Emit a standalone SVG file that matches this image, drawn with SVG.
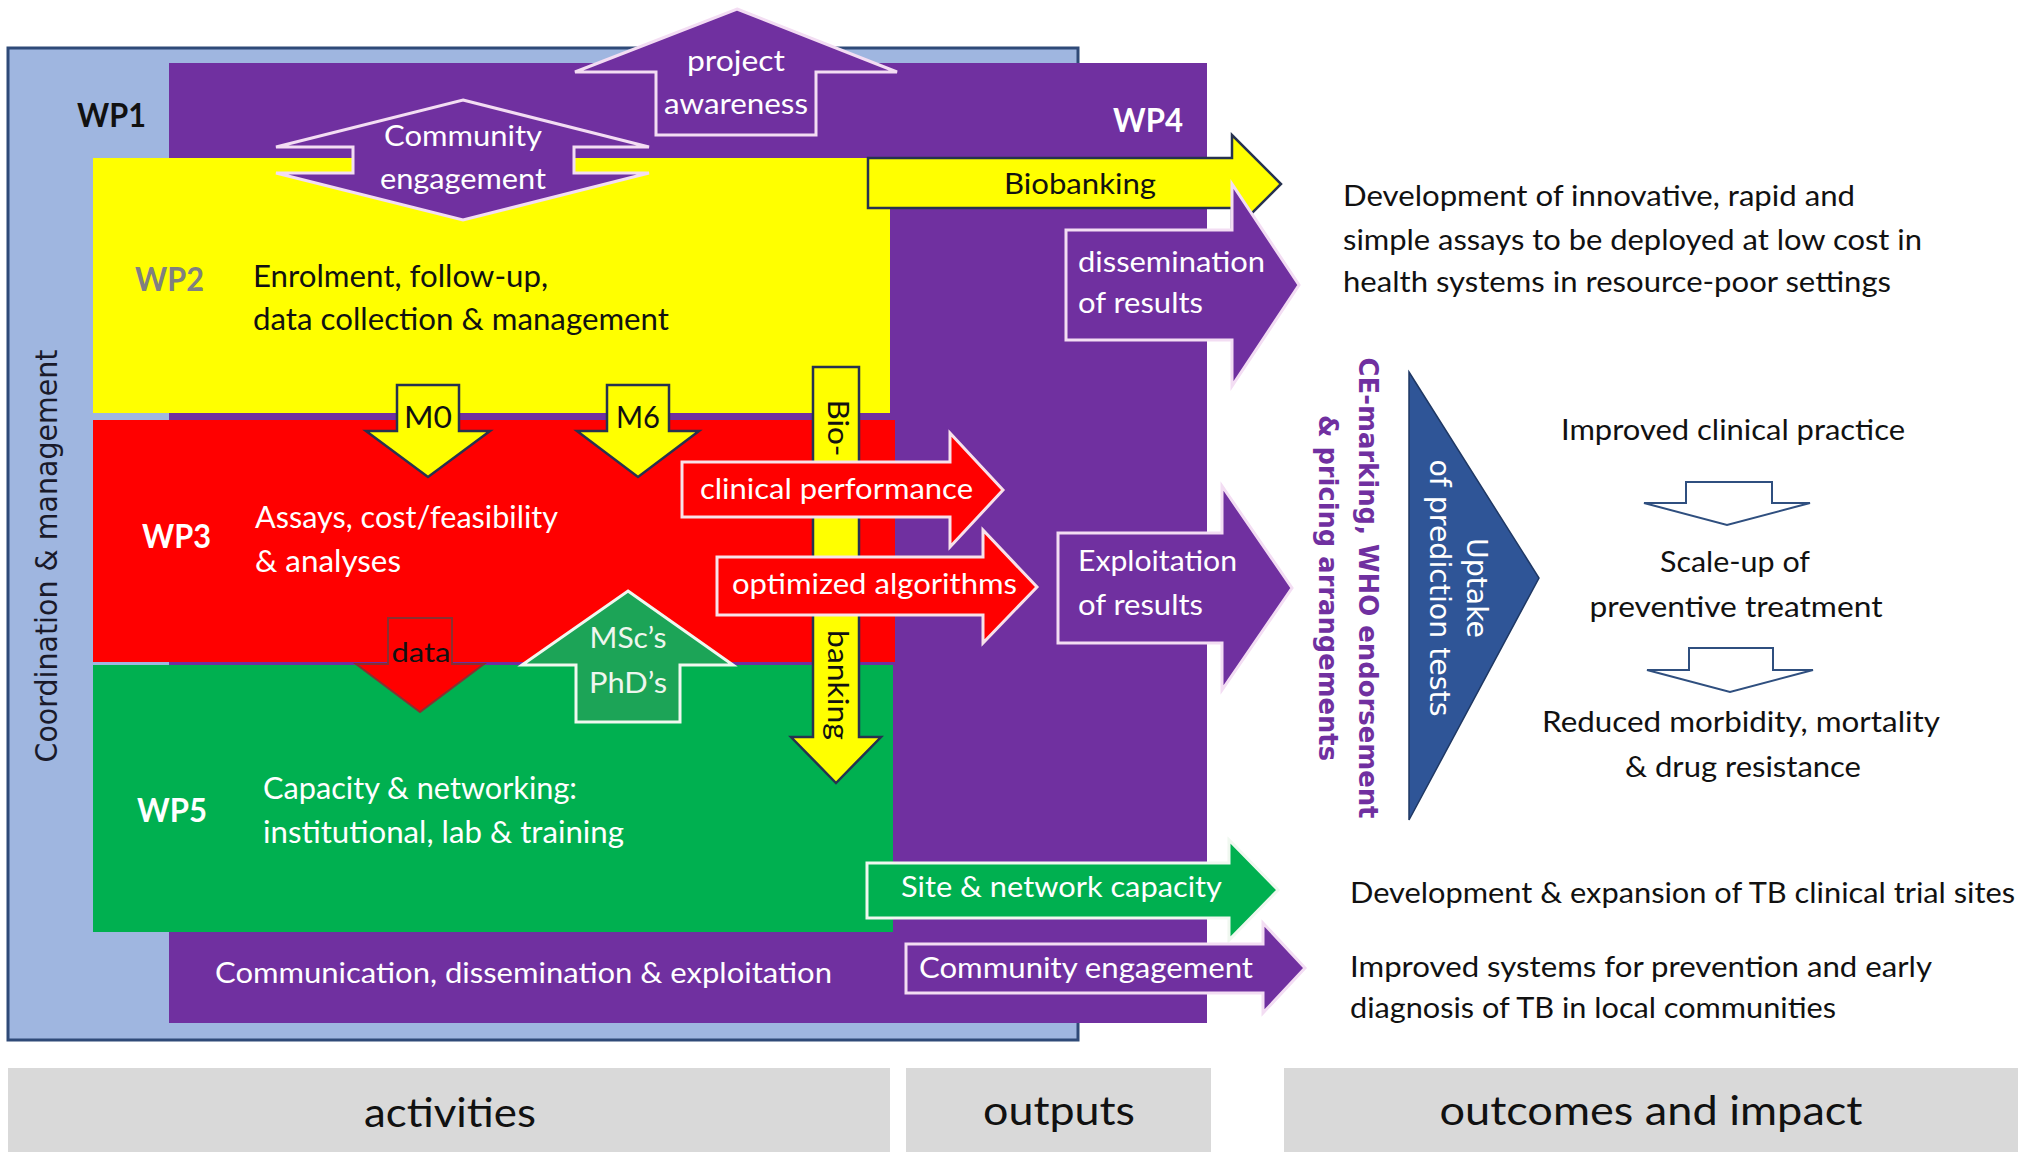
<svg xmlns="http://www.w3.org/2000/svg" width="2028" height="1152" viewBox="0 0 2028 1152">
<style>
.t{font-family:Lato,"Liberation Sans",sans-serif;}
.v{font-family:"DejaVu Sans",Verdana,sans-serif;}
.b{font-weight:bold;}
.w{fill:#FFFFFF;}
.k{fill:#111111;}
.mid{text-anchor:middle;}
.body{font-size:30px;}
.wp{font-size:33px;font-weight:bold;}
.rt{font-size:28px;fill:#111111;}
.pa{fill:#7030A0;stroke:#F3DDF3;stroke-width:3;stroke-linejoin:miter;}
.ra{fill:#FF0000;stroke:#F8E2EA;stroke-width:3;}
.ga{fill:#00B050;stroke:#F0F8F0;stroke-width:3;}
.ya{fill:#FFFF00;stroke:#263250;stroke-width:2.5;}
.ha{fill:#FFFFFF;stroke:#2F4F7F;stroke-width:2;}
.bar{fill:#D9D9D9;}
.lbl{font-size:40px;fill:#111111;}
</style>

<rect x="0" y="0" width="2028" height="1152" fill="#FFFFFF"/>

<g id="wp1-coordination">
  <rect x="8" y="48" width="1070" height="992" fill="#9FB6E0" stroke="#2F4A78" stroke-width="3"/>
  <text class="t wp k" x="77" y="127" textLength="69" lengthAdjust="spacingAndGlyphs">WP1</text>
  <text class="v" font-size="30" fill="#1A1A2A" text-anchor="middle" transform="translate(57,556) rotate(-90)" textLength="413" lengthAdjust="spacingAndGlyphs">Coordination &amp; management</text>
</g>

<g id="wp4-communication">
  <rect x="169" y="63" width="1038" height="960" fill="#7030A0"/>
  <text class="t wp w" x="1113" y="132" textLength="70" lengthAdjust="spacingAndGlyphs">WP4</text>
  <text class="t w" font-size="29" x="215" y="983" textLength="617" lengthAdjust="spacingAndGlyphs">Communication, dissemination &amp; exploitation</text>
</g>

<g id="wp2-enrolment">
  <rect x="93" y="158" width="797" height="255" fill="#FFFF00"/>
  <text class="t wp" fill="#808080" x="135" y="291" textLength="69" lengthAdjust="spacingAndGlyphs">WP2</text>
  <text class="t body k" x="253" y="287" textLength="295" lengthAdjust="spacingAndGlyphs">Enrolment, follow-up,</text>
  <text class="t body k" x="253" y="330" textLength="416" lengthAdjust="spacingAndGlyphs">data collection &amp; management</text>
</g>

<g id="wp3-assays">
  <rect x="93" y="420" width="802" height="242" fill="#FF0000"/>
  <text class="t wp w" x="142" y="548" textLength="69" lengthAdjust="spacingAndGlyphs">WP3</text>
  <text class="t body w" x="255" y="528" textLength="303" lengthAdjust="spacingAndGlyphs">Assays, cost/feasibility</text>
  <text class="t body w" x="255" y="572" textLength="146" lengthAdjust="spacingAndGlyphs">&amp; analyses</text>
</g>

<g id="wp5-capacity">
  <rect x="93" y="665" width="800" height="267" fill="#00B050"/>
  <text class="t wp w" x="137" y="822" textLength="70" lengthAdjust="spacingAndGlyphs">WP5</text>
  <text class="t body w" x="263" y="799" textLength="314" lengthAdjust="spacingAndGlyphs">Capacity &amp; networking:</text>
  <text class="t body w" x="263" y="843" textLength="361" lengthAdjust="spacingAndGlyphs">institutional, lab &amp; training</text>
</g>

<g id="connectors">
  <g id="arrow-project-awareness">
    <polygon class="pa" points="737,9 897,72 816,72 816,135 656,135 656,72 575,72"/>
    <text class="t w mid" font-size="29" x="736" y="71" textLength="98" lengthAdjust="spacingAndGlyphs">project</text>
    <text class="t w mid" font-size="29" x="736" y="114" textLength="144" lengthAdjust="spacingAndGlyphs">awareness</text>
  </g>
  <g id="arrow-community-engagement-top">
    <polygon class="pa" points="463,100 649,147 574,147 574,173 649,173 463,220 276,173 353,173 353,147 276,147"/>
    <text class="t w mid" font-size="29" x="463" y="146" textLength="158" lengthAdjust="spacingAndGlyphs">Community</text>
    <text class="t w mid" font-size="29" x="463" y="189" textLength="166" lengthAdjust="spacingAndGlyphs">engagement</text>
  </g>
  <g id="arrow-m0">
    <polygon class="ya" points="397,385 459,385 459,431 490,431 428,477 366,431 397,431"/>
    <text class="t k mid" font-size="30" x="428" y="428" textLength="48" lengthAdjust="spacingAndGlyphs">M0</text>
  </g>
  <g id="arrow-m6">
    <polygon class="ya" points="607,385 669,385 669,431 699,431 638,477 577,431 607,431"/>
    <text class="t k mid" font-size="30" x="638" y="428" textLength="44" lengthAdjust="spacingAndGlyphs">M6</text>
  </g>
  <g id="arrow-bio-banking">
    <polygon class="ya" points="813,367 859,367 859,737 881,737 836,783 791,737 813,737"/>
    <text class="t k mid" font-size="29" transform="translate(828,428) rotate(90)" textLength="57" lengthAdjust="spacingAndGlyphs">Bio-</text>
    <text class="t k mid" font-size="29" transform="translate(828,685) rotate(90)" textLength="110" lengthAdjust="spacingAndGlyphs">banking</text>
  </g>
  <g id="arrow-clinical-performance">
    <polygon class="ra" points="682,462 950,462 950,433 1003,490 950,547 950,517 682,517"/>
    <text class="t w" font-size="29" x="700" y="499" textLength="273" lengthAdjust="spacingAndGlyphs">clinical performance</text>
  </g>
  <g id="arrow-optimized-algorithms">
    <polygon class="ra" points="717,557 983,557 983,530 1037,587 983,643 983,615 717,615"/>
    <text class="t w" font-size="29" x="732" y="594" textLength="285" lengthAdjust="spacingAndGlyphs">optimized algorithms</text>
  </g>
  <g id="arrow-data">
    <polygon points="388,618 452,618 452,664 484,664 420,712 356,664 388,664" fill="#FF0000" stroke="#8A3030" stroke-width="2"/>
    <text class="t k mid" font-size="27" x="421" y="662" textLength="59" lengthAdjust="spacingAndGlyphs">data</text>
  </g>
  <g id="arrow-msc-phd">
    <polygon points="628,591 733,665 680,665 680,722 576,722 576,665 522,665" fill="#1CA457" stroke="#F0F8F0" stroke-width="3"/>
    <text class="t mid" fill="#EEF6EE" font-size="28" x="628" y="648" textLength="77" lengthAdjust="spacingAndGlyphs">MSc’s</text>
    <text class="t mid" fill="#EEF6EE" font-size="28" x="628" y="693" textLength="78" lengthAdjust="spacingAndGlyphs">PhD’s</text>
  </g>
  <g id="arrow-biobanking">
    <polygon class="ya" points="868,158 1232,158 1232,135 1281,184 1232,233 1232,208 868,208"/>
    <text class="t k mid" font-size="29" x="1080" y="194" textLength="152" lengthAdjust="spacingAndGlyphs">Biobanking</text>
  </g>
  <g id="arrow-dissemination">
    <polygon class="pa" points="1066,230 1232,230 1232,184 1299,285 1232,386 1232,340 1066,340"/>
    <text class="t w" font-size="29" x="1078" y="272" textLength="187" lengthAdjust="spacingAndGlyphs">dissemination</text>
    <text class="t w" font-size="29" x="1078" y="313" textLength="125" lengthAdjust="spacingAndGlyphs">of results</text>
  </g>
  <g id="arrow-exploitation">
    <polygon class="pa" points="1058,533 1222,533 1222,486 1292,588 1222,690 1222,643 1058,643"/>
    <text class="t w" font-size="29" x="1078" y="571" textLength="159" lengthAdjust="spacingAndGlyphs">Exploitation</text>
    <text class="t w" font-size="29" x="1078" y="615" textLength="125" lengthAdjust="spacingAndGlyphs">of results</text>
  </g>
  <g id="arrow-site-network">
    <polygon class="ga" points="867,863 1229,863 1229,840 1278,890 1229,940 1229,918 867,918"/>
    <text class="t w" font-size="29" x="901" y="897" textLength="321" lengthAdjust="spacingAndGlyphs">Site &amp; network capacity</text>
  </g>
  <g id="arrow-community-engagement">
    <polygon class="pa" points="906,944 1263,944 1263,923 1305,968 1263,1013 1263,993 906,993"/>
    <text class="t w" font-size="29" x="919" y="978" textLength="334" lengthAdjust="spacingAndGlyphs">Community engagement</text>
  </g>
  <g id="arrow-uptake">
    <polygon points="1409,372 1539,578 1409,820" fill="#2F5597" stroke="#1F3864" stroke-width="1.5"/>
    <text class="v w mid" font-size="28" transform="translate(1467,588) rotate(90)" textLength="100" lengthAdjust="spacingAndGlyphs">Uptake</text>
    <text class="v w mid" font-size="28" transform="translate(1430,588) rotate(90)" textLength="257" lengthAdjust="spacingAndGlyphs">of prediction tests</text>
  </g>
  <g id="arrow-down-1">
    <polygon class="ha" points="1686,482 1772,482 1772,503 1810,503 1727,525 1644,503 1686,503"/>
  </g>
  <g id="arrow-down-2">
    <polygon class="ha" points="1689,648 1773,648 1773,670 1813,670 1730,692 1647,670 1689,670"/>
  </g>
</g>

<g id="ce-marking">
  <text class="v b mid" font-size="27" fill="#7030A0" transform="translate(1359,588) rotate(90)" textLength="461" lengthAdjust="spacingAndGlyphs">CE-marking, WHO endorsement</text>
  <text class="v b mid" font-size="27" fill="#7030A0" transform="translate(1319,588) rotate(90)" textLength="346" lengthAdjust="spacingAndGlyphs">&amp; pricing arrangements</text>
</g>

<g id="outcome-assays">
  <text class="t rt" x="1343" y="206" textLength="512" lengthAdjust="spacingAndGlyphs">Development of innovative, rapid and</text>
  <text class="t rt" x="1343" y="250" textLength="579" lengthAdjust="spacingAndGlyphs">simple assays to be deployed at low cost in</text>
  <text class="t rt" x="1343" y="292" textLength="548" lengthAdjust="spacingAndGlyphs">health systems in resource-poor settings</text>
</g>

<g id="outcome-clinical-practice">
  <text class="t rt mid" x="1733" y="440" textLength="344" lengthAdjust="spacingAndGlyphs">Improved clinical practice</text>
</g>
<g id="outcome-scale-up">
  <text class="t rt mid" x="1735" y="572" textLength="150" lengthAdjust="spacingAndGlyphs">Scale-up of</text>
  <text class="t rt mid" x="1736" y="617" textLength="293" lengthAdjust="spacingAndGlyphs">preventive treatment</text>
</g>
<g id="outcome-reduced">
  <text class="t rt mid" x="1741" y="732" textLength="398" lengthAdjust="spacingAndGlyphs">Reduced morbidity, mortality</text>
  <text class="t rt mid" x="1743" y="777" textLength="236" lengthAdjust="spacingAndGlyphs">&amp; drug resistance</text>
</g>
<g id="outcome-trial-sites">
  <text class="t rt" x="1350" y="903" textLength="665" lengthAdjust="spacingAndGlyphs">Development &amp; expansion of TB clinical trial sites</text>
</g>
<g id="outcome-systems">
  <text class="t rt" x="1350" y="977" textLength="582" lengthAdjust="spacingAndGlyphs">Improved systems for prevention and early</text>
  <text class="t rt" x="1350" y="1018" textLength="486" lengthAdjust="spacingAndGlyphs">diagnosis of TB in local communities</text>
</g>

<g id="bar-activities">
  <rect class="bar" x="8" y="1068" width="882" height="84"/>
  <text class="t lbl mid" x="450" y="1127" textLength="172" lengthAdjust="spacingAndGlyphs">activities</text>
</g>
<g id="bar-outputs">
  <rect class="bar" x="906" y="1068" width="305" height="84"/>
  <text class="t lbl mid" x="1059" y="1125" textLength="152" lengthAdjust="spacingAndGlyphs">outputs</text>
</g>
<g id="bar-outcomes">
  <rect class="bar" x="1284" y="1068" width="734" height="84"/>
  <text class="t lbl mid" x="1651" y="1125" textLength="423" lengthAdjust="spacingAndGlyphs">outcomes and impact</text>
</g>
</svg>
